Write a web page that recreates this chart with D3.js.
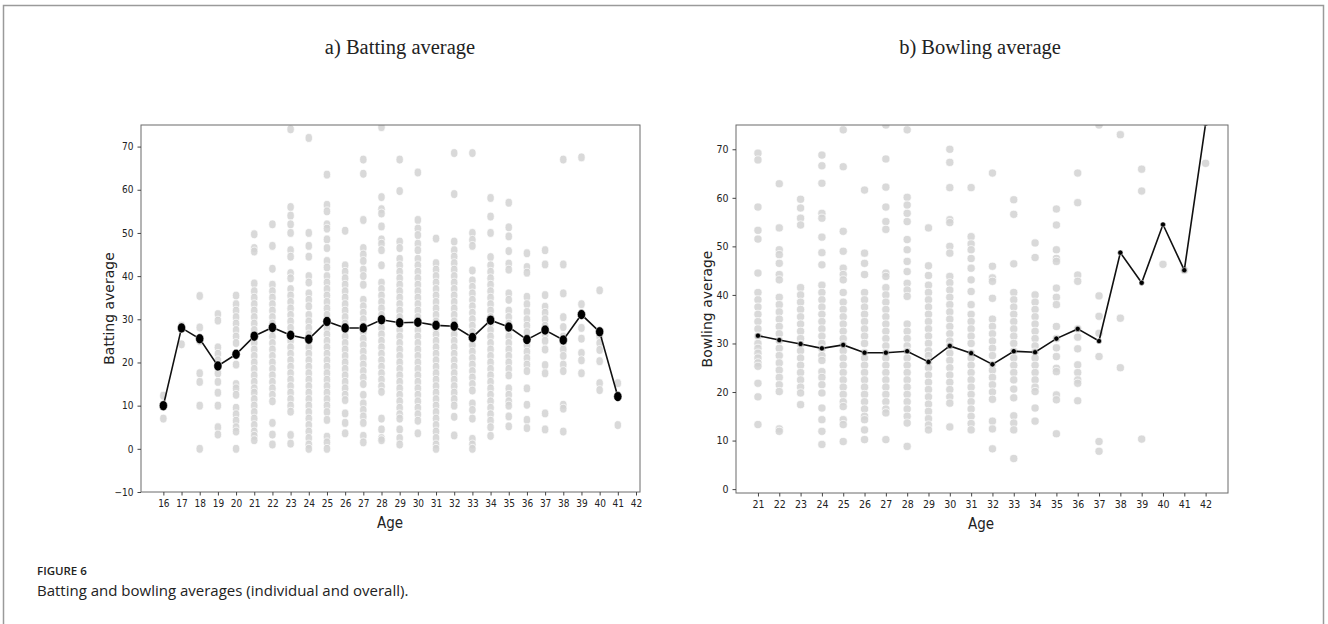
<!DOCTYPE html>
<html>
<head>
<meta charset="utf-8">
<script src="https://cdn.jsdelivr.net/npm/d3@7"></script>
<style>
  body { margin: 0; background: #fff; }
  svg text { fill: #222; }
</style>
</head>
<body>
<svg id="chart" width="1328" height="624"></svg>
<script>
// batting: ages, overall mean, individual player averages
const batAges = [16, 17, 18, 19, 20, 21, 22, 23, 24, 25, 26, 27, 28, 29, 30, 31, 32, 33, 34, 35, 36, 37, 38, 39, 40, 41];
const batMean = [10, 28, 25.5, 19.2, 21.9, 26.1, 28.1, 26.3, 25.4, 29.5, 28, 28, 29.9, 29.2, 29.3, 28.6, 28.4, 25.8, 29.8, 28.2, 25.3, 27.5, 25.2, 31.1, 27.1, 12.1];
const batPoints = [
  [12.3, 10, 7],
  [24.2, 28.5],
  [35.4, 28.1, 25, 17.5, 15.5, 10, 0],
  [31.2, 29.7, 23.5, 22, 20.5, 19, 17.5, 15.5, 13, 10, 5, 3.3],
  [35.5, 33.5, 32, 30.5, 29, 27.5, 26, 24.5, 22, 19.5, 15, 14, 12.5, 9.5, 8, 6.5, 5, 4, 0],
  [49.7, 46.5, 45.7, 38.3, 36.5, 35, 33.5, 32, 30.5, 29, 27.5, 26, 24.5, 23, 21.5, 20, 18.5, 17, 15.5, 14, 13, 11.5, 10, 8.5, 7, 5.5, 4, 3, 2],
  [52, 47, 41.7, 38, 36.5, 35, 33.5, 32, 30.5, 29, 27.5, 26, 24.5, 23, 21.5, 20, 18.5, 17, 15.5, 14, 12.5, 11, 6, 3.3, 1],
  [74, 56, 54, 52, 50, 46, 44.5, 40.7, 39.5, 37, 35.5, 34, 32.5, 31, 29.5, 28, 26.5, 25, 23.5, 22, 20.5, 19, 17.5, 16, 14.5, 13, 11.5, 10, 8.6, 3.2, 1.2],
  [72, 50, 47, 44.5, 40, 38.5, 36, 34.5, 33, 31, 29.5, 28, 26.5, 25, 23.5, 22, 20.5, 19, 17.5, 16, 14.5, 13, 11.5, 10, 8.5, 7, 5.5, 4, 2.5, 1, 0],
  [63.5, 56.5, 55, 52, 51, 48.5, 46.5, 43.5, 42, 40, 38.5, 37, 35.5, 34, 32.5, 31, 29.5, 28, 26.5, 25, 23.5, 22, 20.5, 19, 17.5, 16, 14.5, 13, 11.5, 10, 8.5, 6.7, 2.8, 1.5, 0],
  [50.5, 42.5, 41, 39.5, 38, 36.5, 35, 33.5, 32, 30.5, 29, 27.5, 26, 24.5, 23, 21.5, 20, 18.5, 17, 15.5, 14, 12.5, 11.3, 8.2, 6, 3.6],
  [67, 63.7, 53, 46.5, 45, 43.5, 41.5, 40, 38, 34.5, 33, 31.5, 30, 28.5, 27, 25.5, 24, 22.5, 21, 19.5, 18, 16.5, 15, 12.5, 10.5, 9, 7.5, 6, 3, 1.5],
  [74.5, 58.3, 55.5, 54.5, 51.5, 48.5, 47.5, 46, 42.5, 38.5, 37, 35.5, 34, 32.5, 31, 29.5, 28, 26.5, 25, 23.5, 22, 20.5, 19, 17.5, 16, 14.5, 13.2, 7, 4.5, 2.5, 2],
  [67, 59.7, 48, 46.5, 44, 42.5, 41, 39.5, 38, 36.5, 35, 33.5, 32, 30.5, 29, 27.5, 26, 24.5, 23, 21.5, 20, 18.5, 17, 15.5, 14, 12.5, 11, 9.5, 8, 7, 4.5, 2.5, 1],
  [64, 53, 51, 49.5, 47.5, 46, 44, 42.5, 41, 39.5, 38, 36.5, 35, 33.5, 32, 30.5, 29, 27.5, 26, 24.5, 23, 21.5, 20, 18.5, 17, 15.5, 14, 12.5, 11, 9.5, 8, 6.5, 3.6],
  [48.7, 43, 41.5, 40, 38.5, 37, 35.5, 34, 32.5, 31, 29.5, 28, 26.5, 25, 23.5, 22, 20.5, 19, 17.5, 16, 14.5, 13, 11.5, 10, 8.5, 7, 5.5, 4, 2.5, 1, 0],
  [68.5, 59, 48, 46, 44.5, 43, 41.5, 40, 38.5, 37, 35.5, 34, 32.5, 31, 29.5, 28, 26.5, 25, 23.5, 22, 20.5, 19, 17.5, 16, 14.5, 13, 11.5, 10, 7.4, 3.1],
  [68.5, 50, 48.4, 47, 41.3, 39, 37.5, 36, 34.5, 33, 31.5, 30, 28.5, 27, 25.5, 24, 22.5, 21, 19.5, 18, 16.5, 15, 13.5, 10.5, 9, 7, 2.3, 1, 0],
  [58.1, 53.8, 50, 44.4, 42.5, 41, 39.5, 38, 36.5, 35, 33.5, 32, 30.5, 29, 27.5, 26, 24.5, 23, 21.5, 20, 18.5, 17, 15.5, 14, 12.5, 11, 9.5, 8, 6.5, 5, 3],
  [57, 51.3, 49.2, 45.8, 42.9, 41.5, 36, 34.5, 32, 30.5, 29, 27.5, 26, 24.5, 23, 21.5, 20, 18.5, 17, 14, 12.5, 11, 10, 7.5, 5.2],
  [45.3, 42.1, 40.8, 35.2, 33.5, 31.7, 30, 28.5, 27, 25.3, 24, 22.5, 21, 19.5, 18, 14, 10.2, 6.7, 4.8],
  [46, 42.7, 35.6, 32.9, 31.5, 30, 28.5, 26.5, 25, 23, 19.4, 17.5, 8.2, 4.5],
  [67, 42.7, 36, 30.5, 28.2, 26, 24.5, 23, 21.5, 19.5, 18, 10.2, 9.3, 4],
  [67.5, 33.5, 28, 25.5, 22.2, 20.5, 17.5],
  [36.7, 26, 24.5, 22.9, 20.3, 15.2, 13.6],
  [15.2, 5.5]
];

// bowling: ages, overall mean, individual player averages
const bowlAges = [21, 22, 23, 24, 25, 26, 27, 28, 29, 30, 31, 32, 33, 34, 35, 36, 37, 38, 39, 40, 41, 42];
const bowlMean = [31.6, 30.7, 29.9, 29, 29.7, 28.1, 28.1, 28.4, 26.2, 29.5, 28, 25.7, 28.4, 28.2, 31, 33, 30.5, 48.7, 42.5, 54.5, 45.1, 75.3];
const bowlPoints = [
  [69.2, 67.8, 58.1, 53.3, 51.5, 44.5, 40.5, 39, 37.5, 36, 34.5, 33, 31.5, 30, 29, 28, 27, 26, 25.3, 21.8, 19, 13.3],
  [62.9, 53.8, 49.3, 48.3, 46.5, 44.2, 43.1, 39.5, 38, 36.5, 35, 33.5, 32, 30.6, 29, 27.5, 26, 24.5, 23, 21.5, 20.1, 12.4, 11.9],
  [59.7, 57.9, 55.8, 54.4, 41.5, 40, 38.5, 37, 35.5, 34, 32.5, 31, 29.8, 28.5, 27, 25.5, 24, 22.5, 21, 19.8, 17.4],
  [68.8, 66.6, 63, 56.8, 55.8, 51.9, 48.7, 46.2, 42, 40.5, 39, 37.5, 36, 34.5, 33, 31.5, 30, 28.9, 27.5, 26.5, 24.2, 23, 21.5, 19.8, 16.7, 14.3, 11.9, 9.2],
  [74, 66.4, 53.1, 49, 45.5, 44.2, 43.1, 40.5, 38.5, 37, 35.5, 34, 32.5, 31, 29.7, 28.5, 27, 25.5, 24, 22.5, 21, 19.5, 18, 17, 14.3, 13.3, 9.8],
  [61.6, 48.6, 46.5, 44.2, 40.5, 39, 37.5, 36, 34.5, 33, 31.5, 30, 28.1, 27, 25.5, 24, 22.5, 21, 19.5, 18, 16.5, 15, 14.3, 12.2, 10.2],
  [75, 68, 62.2, 58.1, 55.1, 53.5, 44.5, 43.8, 41.5, 40, 38.5, 37, 35.5, 34, 32.5, 31, 29.5, 28.1, 27, 25.5, 24, 22.5, 21, 19.5, 18, 16.5, 15.7, 10.2],
  [74, 60.1, 58.5, 56.8, 55.1, 51.4, 49.3, 46.9, 44.8, 42.4, 41, 39.7, 34, 32.5, 31, 29.5, 28.4, 27, 25.5, 24, 22.5, 21, 19.5, 18, 16.5, 15, 13.6, 8.8],
  [53.8, 46, 44, 42, 40.5, 39, 37.5, 36, 34.5, 33, 31.5, 30, 28.5, 27.5, 26.2, 25, 23.5, 22, 20.5, 19, 17.5, 16, 14.5, 13.2, 12.2],
  [70, 67.3, 62.1, 55.5, 54.9, 50, 48.6, 43.8, 42.5, 41, 39.5, 38, 36.5, 35, 33.5, 32, 30.5, 29.5, 28, 26.5, 25, 23.5, 22, 20.5, 19, 17.7, 12.8],
  [62.1, 52, 50.5, 49.3, 47.5, 45.5, 43.1, 40.7, 38, 36, 34.5, 33, 31.5, 30, 28, 27, 25.5, 24, 22.5, 21, 19.5, 18, 16.5, 15, 13.5, 12.2],
  [65.1, 45.9, 43.5, 42.8, 39.3, 35, 33.5, 32, 30.5, 29, 27.5, 25.7, 24.5, 23, 21.5, 20, 18.5, 14, 12.4, 8.3],
  [59.6, 56.6, 46.4, 40.5, 39, 37.5, 36, 34.5, 33, 31.5, 30, 28.4, 27, 25.5, 24, 22.5, 20.6, 18.8, 15.1, 13.6, 12.2, 6.3],
  [50.7, 47.7, 40, 38.5, 37, 35.5, 34, 32.5, 31, 29.5, 28.2, 27, 25.5, 24, 22.5, 21, 20.1, 16.7, 14],
  [57.7, 54.4, 49.3, 47.5, 46.9, 41.4, 39.5, 38, 33.5, 31, 29.1, 27.3, 24.9, 24.2, 19.4, 18.4, 11.4],
  [65.1, 59, 44.1, 42.8, 33, 31.3, 28.9, 25.6, 24, 22.5, 21.8, 18.2],
  [75, 39.8, 35.6, 32.1, 27.3, 9.8, 7.8],
  [73, 35.2, 25],
  [65.9, 61.4, 10.3],
  [46.3],
  [45.1],
  [67.1]
];

const batYTicks = [-10, 0, 10, 20, 30, 40, 50, 60, 70];
const bowlYTicks = [0, 10, 20, 30, 40, 50, 60, 70];
const batXTicks = d3.range(16, 43);
const bowlXTicks = d3.range(21, 43);

const svg = d3.select('#chart');

// page frame
svg.append('rect')
    .attr('x', 3.5).attr('y', 5.5)
    .attr('width', 1320).attr('height', 700)
    .attr('fill', 'none')
    .attr('stroke', '#9a9a9a')
    .attr('stroke-width', 1.5);

// panel titles
svg.append('text')
    .attr('x', 400).attr('y', 54)
    .attr('text-anchor', 'middle')
    .style('font-family', '"Liberation Serif", "Times New Roman", serif')
    .style('font-size', '20.5px')
    .text('a) Batting average');

svg.append('text')
    .attr('x', 980).attr('y', 54)
    .attr('text-anchor', 'middle')
    .style('font-family', '"Liberation Serif", "Times New Roman", serif')
    .style('font-size', '20.5px')
    .text('b) Bowling average');

function drawPanel(cfg) {
    const x = d3.scaleLinear().domain(cfg.xDomain).range([cfg.left, cfg.right]);
    const y = d3.scaleLinear().domain(cfg.yDomain).range([cfg.bottom, cfg.top]);

    const g = svg.append('g');

    g.append('clipPath')
        .attr('id', cfg.id + '-clip')
        .append('rect')
        .attr('x', cfg.left).attr('y', cfg.top)
        .attr('width', cfg.right - cfg.left)
        .attr('height', cfg.bottom - cfg.top);

    const plot = g.append('g').attr('clip-path', `url(#${cfg.id}-clip)`);

    // individual averages
    const pts = [];
    cfg.ages.forEach((a, i) => cfg.points[i].forEach((v) => pts.push({ age: a, v: v })));

    plot.selectAll('ellipse.pt')
        .data(pts)
        .enter()
        .append('ellipse')
        .attr('class', 'pt')
        .attr('cx', (d) => x(d.age))
        .attr('cy', (d) => y(d.v))
        .attr('rx', cfg.ptRx)
        .attr('ry', cfg.ptRy)
        .attr('fill', '#d2d2d2')
        .attr('fill-opacity', 0.85)
        .attr('stroke', '#fff')
        .attr('stroke-width', 0.7);

    // overall mean line
    const line = d3.line()
        .x((d, i) => x(cfg.ages[i]))
        .y((d) => y(d));

    plot.append('path')
        .datum(cfg.mean)
        .attr('d', line)
        .attr('fill', 'none')
        .attr('stroke', '#111')
        .attr('stroke-width', 1.6);

    plot.selectAll('ellipse.mean')
        .data(cfg.mean)
        .enter()
        .append('ellipse')
        .attr('class', 'mean')
        .attr('cx', (d, i) => x(cfg.ages[i]))
        .attr('cy', (d) => y(d))
        .attr('rx', cfg.meanRx)
        .attr('ry', cfg.meanRy)
        .attr('fill', '#000')
        .attr('stroke', '#fff')
        .attr('stroke-width', 0.5);

    // frame
    g.append('rect')
        .attr('x', cfg.left).attr('y', cfg.top)
        .attr('width', cfg.right - cfg.left)
        .attr('height', cfg.bottom - cfg.top)
        .attr('fill', 'none')
        .attr('stroke', '#6b6b6b')
        .attr('stroke-width', 1);

    const tickFont = '"DejaVu Sans Condensed", "DejaVu Sans", sans-serif';

    const xAxis = g.append('g')
        .attr('transform', `translate(0,${cfg.bottom})`)
        .call(d3.axisBottom(x).tickValues(cfg.xTicks).tickSize(3.5).tickPadding(4).tickFormat(d3.format('d')));
    xAxis.select('.domain').remove();
    xAxis.selectAll('line').attr('stroke', '#444');
    xAxis.selectAll('text')
        .style('font-family', tickFont)
        .style('font-size', cfg.tickSize)
        .attr('fill', '#333');

    const yAxis = g.append('g')
        .attr('transform', `translate(${cfg.left},0)`)
        .call(d3.axisLeft(y).tickValues(cfg.yTicks).tickSize(3.5).tickPadding(4).tickFormat((d) => d < 0 ? '\u221210' : d));
    yAxis.select('.domain').remove();
    yAxis.selectAll('line').attr('stroke', '#444');
    yAxis.selectAll('text')
        .style('font-family', tickFont)
        .style('font-size', cfg.tickSize)
        .attr('fill', '#333');

    g.append('text')
        .attr('x', cfg.xLabelX).attr('y', cfg.xLabelY)
        .attr('text-anchor', 'middle')
        .style('font-family', tickFont)
        .style('font-size', '15px')
        .text('Age');

    g.append('text')
        .attr('transform', `translate(${cfg.yLabelX},${(cfg.top + cfg.bottom) / 2}) rotate(-90)`)
        .attr('text-anchor', 'middle')
        .style('font-family', '"DejaVu Sans", sans-serif')
        .style('font-size', '14px')
        .text(cfg.yLabel);
}

drawPanel({
    id: 'bat',
    left: 141, right: 640, top: 125, bottom: 492,
    xDomain: [14.77, 42.22], yDomain: [-10, 75],
    ages: batAges, mean: batMean, points: batPoints,
    xTicks: batXTicks, yTicks: batYTicks,
    ptRx: 3.7, ptRy: 4.4, meanRx: 4.1, meanRy: 5.0,
    tickSize: '10px',
    xLabelX: 390, xLabelY: 528,
    yLabelX: 114, yLabel: 'Batting average'
});

drawPanel({
    id: 'bowl',
    left: 736, right: 1228, top: 125, bottom: 493,
    xDomain: [19.97, 43.05], yDomain: [-0.8, 75],
    ages: bowlAges, mean: bowlMean, points: bowlPoints,
    xTicks: bowlXTicks, yTicks: bowlYTicks,
    ptRx: 4.1, ptRy: 4.1, meanRx: 2.6, meanRy: 2.6,
    tickSize: '10.5px',
    xLabelX: 981, xLabelY: 529,
    yLabelX: 712, yLabel: 'Bowling average'
});

// caption
svg.append('text')
    .attr('x', 37).attr('y', 575)
    .style('font-family', '"Open Sans", sans-serif')
    .style('font-size', '11.5px')
    .style('font-weight', 600)
    .attr('fill', '#7a7a7a')
    .text('FIGURE 6');

svg.append('text')
    .attr('x', 37).attr('y', 596)
    .style('font-family', '"Open Sans", sans-serif')
    .style('font-size', '15px')
    .attr('fill', '#555')
    .text('Batting and bowling averages (individual and overall).');
</script>
</body>
</html>
